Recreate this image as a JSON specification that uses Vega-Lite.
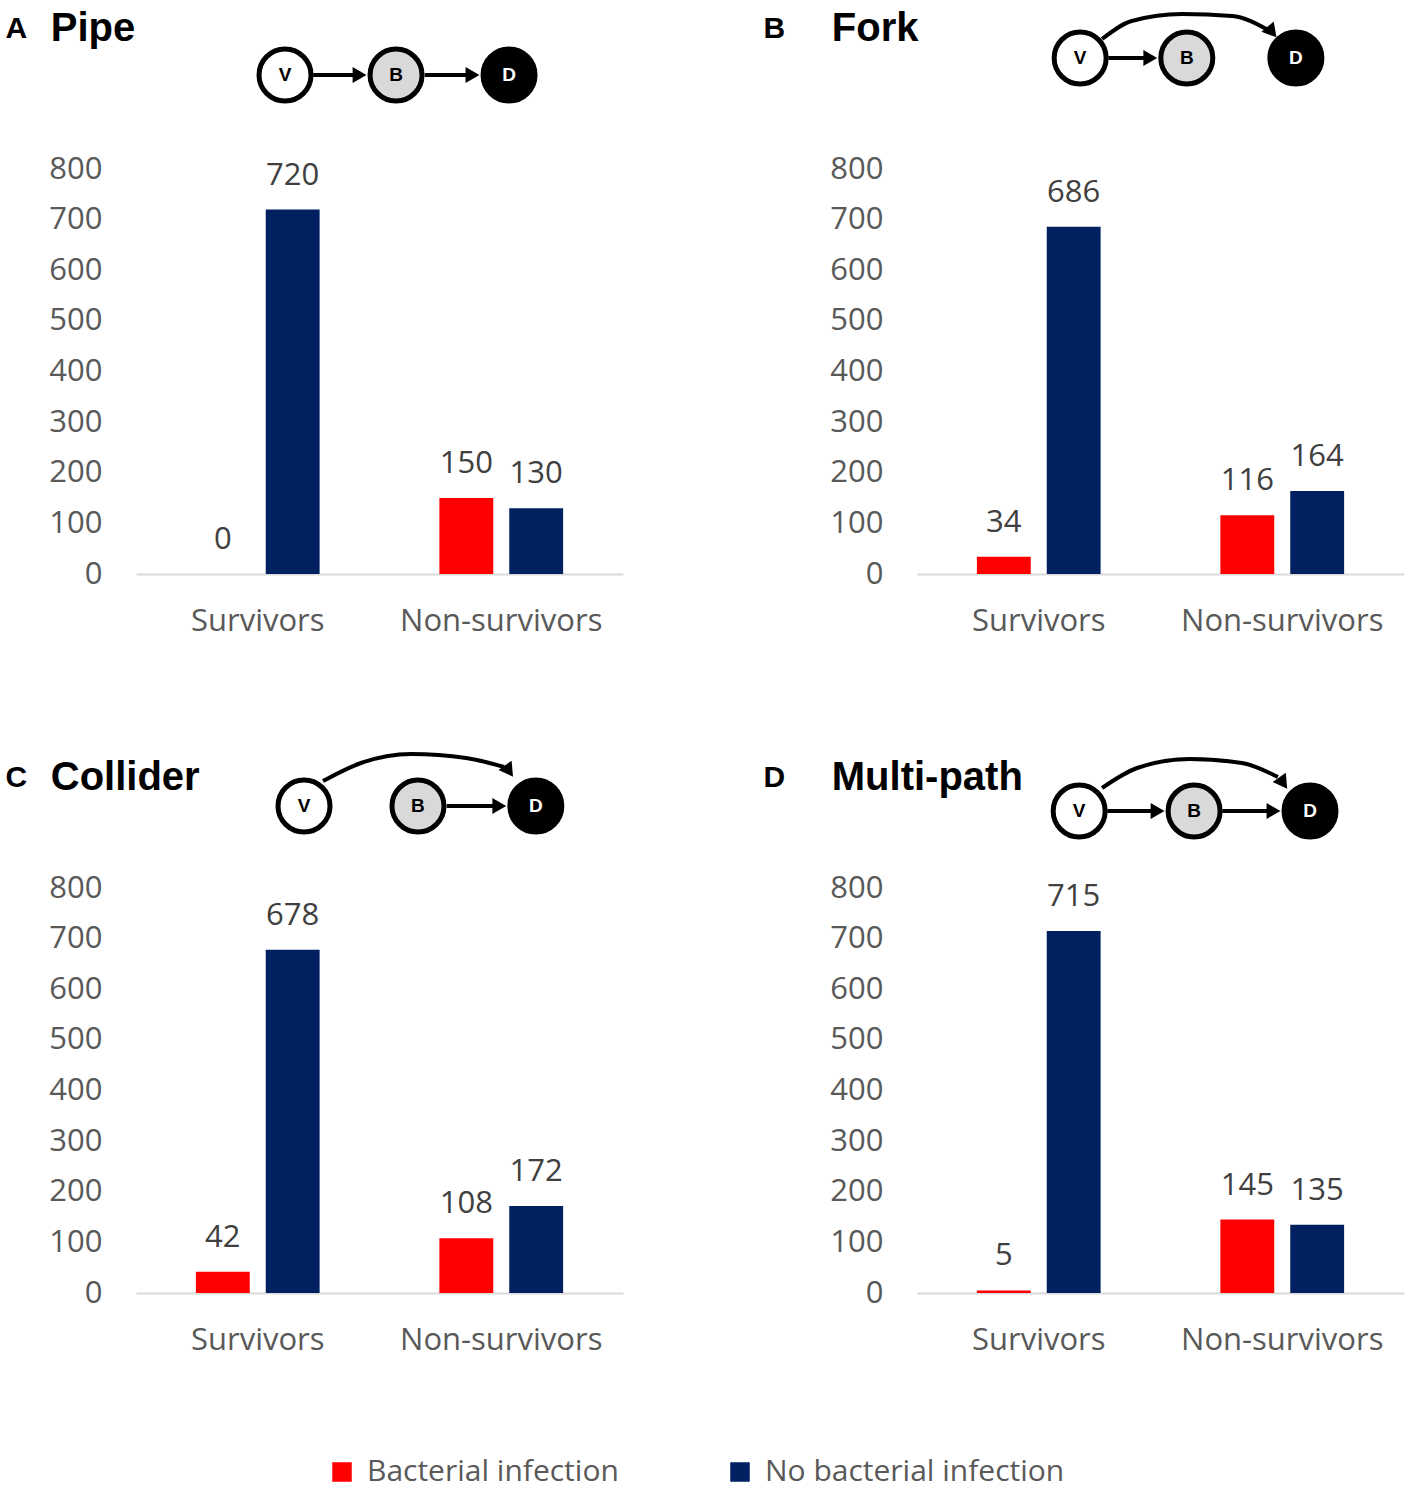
{
  "$schema": "https://vega.github.io/schema/vega-lite/v6.json",
  "background": "#ffffff",
  "padding": {"left": 5, "top": 5, "right": 5, "bottom": 6},
  "datasets": {
    "bars": [
      {"panel": "A", "group": "Survivors", "infection": "Bacterial infection", "count": 0},
      {"panel": "A", "group": "Survivors", "infection": "No bacterial infection", "count": 720},
      {"panel": "A", "group": "Non-survivors", "infection": "Bacterial infection", "count": 150},
      {"panel": "A", "group": "Non-survivors", "infection": "No bacterial infection", "count": 130},
      {"panel": "B", "group": "Survivors", "infection": "Bacterial infection", "count": 34},
      {"panel": "B", "group": "Survivors", "infection": "No bacterial infection", "count": 686},
      {"panel": "B", "group": "Non-survivors", "infection": "Bacterial infection", "count": 116},
      {"panel": "B", "group": "Non-survivors", "infection": "No bacterial infection", "count": 164},
      {"panel": "C", "group": "Survivors", "infection": "Bacterial infection", "count": 42},
      {"panel": "C", "group": "Survivors", "infection": "No bacterial infection", "count": 678},
      {"panel": "C", "group": "Non-survivors", "infection": "Bacterial infection", "count": 108},
      {"panel": "C", "group": "Non-survivors", "infection": "No bacterial infection", "count": 172},
      {"panel": "D", "group": "Survivors", "infection": "Bacterial infection", "count": 5},
      {"panel": "D", "group": "Survivors", "infection": "No bacterial infection", "count": 715},
      {"panel": "D", "group": "Non-survivors", "infection": "Bacterial infection", "count": 145},
      {"panel": "D", "group": "Non-survivors", "infection": "No bacterial infection", "count": 135}
    ],
    "titles": [
      {"panel": "A", "kind": "letter", "label": "A", "x": -2.68, "y": 11.0},
      {"panel": "A", "kind": "title", "label": "Pipe", "x": -1.75, "y": 11.0},
      {"panel": "B", "kind": "letter", "label": "B", "x": -3.15, "y": 11.0},
      {"panel": "B", "kind": "title", "label": "Fork", "x": -1.75, "y": 11.0},
      {"panel": "C", "kind": "letter", "label": "C", "x": -2.68, "y": 7.6},
      {"panel": "C", "kind": "title", "label": "Collider", "x": -1.75, "y": 7.6},
      {"panel": "D", "kind": "letter", "label": "D", "x": -3.15, "y": 7.6},
      {"panel": "D", "kind": "title", "label": "Multi-path", "x": -1.75, "y": 7.6}
    ],
    "nodes": [
      {"panel": "A", "node": "V", "x": 3.06, "y": 6.4},
      {"panel": "A", "node": "B", "x": 5.34, "y": 6.4},
      {"panel": "A", "node": "D", "x": 7.66, "y": 6.4},
      {"panel": "B", "node": "V", "x": 3.35, "y": 8.1},
      {"panel": "B", "node": "B", "x": 5.54, "y": 8.1},
      {"panel": "B", "node": "D", "x": 7.78, "y": 8.1},
      {"panel": "C", "node": "V", "x": 3.45, "y": 4.8},
      {"panel": "C", "node": "B", "x": 5.79, "y": 4.8},
      {"panel": "C", "node": "D", "x": 8.21, "y": 4.8},
      {"panel": "D", "node": "V", "x": 3.33, "y": 4.3},
      {"panel": "D", "node": "B", "x": 5.69, "y": 4.3},
      {"panel": "D", "node": "D", "x": 8.07, "y": 4.3}
    ],
    "edges": [
      {"panel": "A", "x": 3.64, "x2": 4.59, "y": 6.4},
      {"panel": "A", "x": 5.93, "x2": 6.91, "y": 6.4},
      {"panel": "B", "x": 3.93, "x2": 4.79, "y": 8.1},
      {"panel": "C", "x": 6.38, "x2": 7.46, "y": 4.8},
      {"panel": "D", "x": 3.91, "x2": 4.94, "y": 4.3},
      {"panel": "D", "x": 6.27, "x2": 7.32, "y": 4.3}
    ],
    "curves": [
      {"panel": "B", "order": 1, "x": 3.8, "y": 10.0},
      {"panel": "B", "order": 2, "x": 4.41, "y": 11.8},
      {"panel": "B", "order": 3, "x": 5.44, "y": 12.5},
      {"panel": "B", "order": 4, "x": 6.47, "y": 12.3},
      {"panel": "B", "order": 5, "x": 7.21, "y": 10.9},
      {"panel": "C", "order": 1, "x": 3.84, "y": 7.3},
      {"panel": "C", "order": 2, "x": 4.62, "y": 9.1},
      {"panel": "C", "order": 3, "x": 5.65, "y": 10.0},
      {"panel": "C", "order": 4, "x": 6.78, "y": 9.6},
      {"panel": "C", "order": 5, "x": 7.56, "y": 8.7},
      {"panel": "D", "order": 1, "x": 3.8, "y": 6.6},
      {"panel": "D", "order": 2, "x": 4.52, "y": 8.6},
      {"panel": "D", "order": 3, "x": 5.59, "y": 9.5},
      {"panel": "D", "order": 4, "x": 6.67, "y": 9.1},
      {"panel": "D", "order": 5, "x": 7.41, "y": 7.7}
    ],
    "curveHeads": [
      {"panel": "B", "x": 7.29, "y": 10.7},
      {"panel": "C", "x": 7.66, "y": 8.3},
      {"panel": "D", "x": 7.52, "y": 7.1}
    ]
  },
  "vconcat": [
    {
      "hconcat": [
        {
          "vconcat": [
            {
              "width": 487,
              "height": 130,
              "encoding": {
                "x": {"field": "x", "type": "quantitative", "scale": {"domain": [0, 10], "nice": false, "zero": false}, "axis": null},
                "y": {"field": "y", "type": "quantitative", "scale": {"domain": [0, 13], "nice": false, "zero": false}, "axis": null}
              },
              "layer": [
                {
                  "data": {"name": "titles"},
                  "transform": [{"filter": "datum.panel === 'A' && datum.kind === 'letter'"}],
                  "mark": {"type": "text", "font": "Liberation Sans", "fontWeight": "bold", "fontSize": 30, "align": "left", "baseline": "middle", "color": "#000000"},
                  "encoding": {"text": {"field": "label"}}
                },
                {
                  "data": {"name": "titles"},
                  "transform": [{"filter": "datum.panel === 'A' && datum.kind === 'title'"}],
                  "mark": {"type": "text", "font": "Liberation Sans", "fontWeight": "bold", "fontSize": 40, "align": "left", "baseline": "middle", "color": "#000000"},
                  "encoding": {"text": {"field": "label"}}
                },
                {
                  "data": {"name": "edges"},
                  "transform": [{"filter": "datum.panel === 'A'"}],
                  "mark": {"type": "rule", "strokeWidth": 4, "color": "#000000"},
                  "encoding": {"x2": {"field": "x2"}}
                },
                {
                  "data": {"name": "edges"},
                  "transform": [{"filter": "datum.panel === 'A'"}],
                  "mark": {"type": "point", "shape": "triangle-right", "filled": true, "size": 256, "color": "#000000", "opacity": 1},
                  "encoding": {"x": {"field": "x2", "type": "quantitative"}}
                },
                {
                  "data": {"name": "nodes"},
                  "transform": [{"filter": "datum.panel === 'A'"}],
                  "mark": {"type": "point", "shape": "circle", "filled": true, "size": 2704, "stroke": "#000000", "strokeWidth": 5, "opacity": 1},
                  "encoding": {"fill": {"field": "node", "type": "nominal", "scale": {"domain": ["V", "B", "D"], "range": ["#ffffff", "#d9d9d9", "#000000"]}, "legend": null}}
                },
                {
                  "data": {"name": "nodes"},
                  "transform": [{"filter": "datum.panel === 'A' && datum.node !== 'D'"}],
                  "mark": {"type": "text", "font": "Liberation Sans", "fontWeight": "bold", "fontSize": 19, "align": "center", "baseline": "middle", "color": "#000000"},
                  "encoding": {"text": {"field": "node"}}
                },
                {
                  "data": {"name": "nodes"},
                  "transform": [{"filter": "datum.panel === 'A' && datum.node === 'D'"}],
                  "mark": {"type": "text", "font": "Liberation Sans", "fontWeight": "bold", "fontSize": 19, "align": "center", "baseline": "middle", "color": "#ffffff"},
                  "encoding": {"text": {"field": "node"}}
                }
              ]
            },
            {
              "width": 487,
              "height": 405,
              "data": {"name": "bars"},
              "transform": [{"filter": "datum.panel === 'A'"}],
              "encoding": {
                "x": {"field": "group", "type": "nominal", "sort": ["Survivors", "Non-survivors"], "scale": {"paddingInner": 0, "paddingOuter": 0}, "title": null},
                "xOffset": {"field": "infection", "type": "nominal", "sort": ["Bacterial infection", "No bacterial infection"], "scale": {"paddingInner": 0.229, "paddingOuter": 0.857}},
                "y": {"field": "count", "type": "quantitative", "scale": {"domain": [0, 800], "nice": false}, "title": null}
              },
              "layer": [
                {
                  "mark": {"type": "bar"},
                  "encoding": {
                    "color": {
                      "field": "infection", "type": "nominal",
                      "scale": {"domain": ["Bacterial infection", "No bacterial infection"], "range": ["#ff0000", "#002060"]},
                      "legend": {"orient": "none", "legendX": 191, "legendY": 1448, "direction": "horizontal", "title": null, "symbolType": "square", "symbolSize": 380, "symbolStrokeWidth": 0, "labelFontSize": 30, "labelColor": "#595959", "labelFont": "Open Sans", "labelOffset": 10, "labelLimit": 0, "columnPadding": 106}
                    }
                  }
                },
                {
                  "mark": {"type": "text", "baseline": "alphabetic", "dy": -25, "fontSize": 31, "font": "Open Sans", "color": "#404040"},
                  "encoding": {"text": {"field": "count", "type": "quantitative"}}
                }
              ]
            }
          ],
          "spacing": 14
        },
        {
          "vconcat": [
            {
              "width": 487,
              "height": 130,
              "encoding": {
                "x": {"field": "x", "type": "quantitative", "scale": {"domain": [0, 10], "nice": false, "zero": false}, "axis": null},
                "y": {"field": "y", "type": "quantitative", "scale": {"domain": [0, 13], "nice": false, "zero": false}, "axis": null}
              },
              "layer": [
                {
                  "data": {"name": "titles"},
                  "transform": [{"filter": "datum.panel === 'B' && datum.kind === 'letter'"}],
                  "mark": {"type": "text", "font": "Liberation Sans", "fontWeight": "bold", "fontSize": 30, "align": "left", "baseline": "middle", "color": "#000000"},
                  "encoding": {"text": {"field": "label"}}
                },
                {
                  "data": {"name": "titles"},
                  "transform": [{"filter": "datum.panel === 'B' && datum.kind === 'title'"}],
                  "mark": {"type": "text", "font": "Liberation Sans", "fontWeight": "bold", "fontSize": 40, "align": "left", "baseline": "middle", "color": "#000000"},
                  "encoding": {"text": {"field": "label"}}
                },
                {
                  "data": {"name": "curves"},
                  "transform": [{"filter": "datum.panel === 'B'"}],
                  "mark": {"type": "line", "interpolate": "monotone", "strokeWidth": 4, "color": "#000000"},
                  "encoding": {"order": {"field": "order", "type": "quantitative"}}
                },
                {
                  "data": {"name": "curveHeads"},
                  "transform": [{"filter": "datum.panel === 'B'"}],
                  "mark": {"type": "point", "shape": "triangle-right", "angle": 50, "filled": true, "size": 256, "color": "#000000", "opacity": 1}
                },
                {
                  "data": {"name": "edges"},
                  "transform": [{"filter": "datum.panel === 'B'"}],
                  "mark": {"type": "rule", "strokeWidth": 4, "color": "#000000"},
                  "encoding": {"x2": {"field": "x2"}}
                },
                {
                  "data": {"name": "edges"},
                  "transform": [{"filter": "datum.panel === 'B'"}],
                  "mark": {"type": "point", "shape": "triangle-right", "filled": true, "size": 256, "color": "#000000", "opacity": 1},
                  "encoding": {"x": {"field": "x2", "type": "quantitative"}}
                },
                {
                  "data": {"name": "nodes"},
                  "transform": [{"filter": "datum.panel === 'B'"}],
                  "mark": {"type": "point", "shape": "circle", "filled": true, "size": 2704, "stroke": "#000000", "strokeWidth": 5, "opacity": 1},
                  "encoding": {"fill": {"field": "node", "type": "nominal", "scale": {"domain": ["V", "B", "D"], "range": ["#ffffff", "#d9d9d9", "#000000"]}, "legend": null}}
                },
                {
                  "data": {"name": "nodes"},
                  "transform": [{"filter": "datum.panel === 'B' && datum.node !== 'D'"}],
                  "mark": {"type": "text", "font": "Liberation Sans", "fontWeight": "bold", "fontSize": 19, "align": "center", "baseline": "middle", "color": "#000000"},
                  "encoding": {"text": {"field": "node"}}
                },
                {
                  "data": {"name": "nodes"},
                  "transform": [{"filter": "datum.panel === 'B' && datum.node === 'D'"}],
                  "mark": {"type": "text", "font": "Liberation Sans", "fontWeight": "bold", "fontSize": 19, "align": "center", "baseline": "middle", "color": "#ffffff"},
                  "encoding": {"text": {"field": "node"}}
                }
              ]
            },
            {
              "width": 487,
              "height": 405,
              "data": {"name": "bars"},
              "transform": [{"filter": "datum.panel === 'B'"}],
              "encoding": {
                "x": {"field": "group", "type": "nominal", "sort": ["Survivors", "Non-survivors"], "scale": {"paddingInner": 0, "paddingOuter": 0}, "title": null},
                "xOffset": {"field": "infection", "type": "nominal", "sort": ["Bacterial infection", "No bacterial infection"], "scale": {"paddingInner": 0.229, "paddingOuter": 0.857}},
                "y": {"field": "count", "type": "quantitative", "scale": {"domain": [0, 800], "nice": false}, "title": null}
              },
              "layer": [
                {
                  "mark": {"type": "bar"},
                  "encoding": {
                    "color": {
                      "field": "infection", "type": "nominal",
                      "scale": {"domain": ["Bacterial infection", "No bacterial infection"], "range": ["#ff0000", "#002060"]},
                      "legend": {"orient": "none", "legendX": 191, "legendY": 1448, "direction": "horizontal", "title": null, "symbolType": "square", "symbolSize": 380, "symbolStrokeWidth": 0, "labelFontSize": 30, "labelColor": "#595959", "labelFont": "Open Sans", "labelOffset": 10, "labelLimit": 0, "columnPadding": 106}
                    }
                  }
                },
                {
                  "mark": {"type": "text", "baseline": "alphabetic", "dy": -25, "fontSize": 31, "font": "Open Sans", "color": "#404040"},
                  "encoding": {"text": {"field": "count", "type": "quantitative"}}
                }
              ]
            }
          ],
          "spacing": 14
        }
      ],
      "spacing": 140
    },
    {
      "hconcat": [
        {
          "vconcat": [
            {
              "width": 487,
              "height": 130,
              "encoding": {
                "x": {"field": "x", "type": "quantitative", "scale": {"domain": [0, 10], "nice": false, "zero": false}, "axis": null},
                "y": {"field": "y", "type": "quantitative", "scale": {"domain": [0, 13], "nice": false, "zero": false}, "axis": null}
              },
              "layer": [
                {
                  "data": {"name": "titles"},
                  "transform": [{"filter": "datum.panel === 'C' && datum.kind === 'letter'"}],
                  "mark": {"type": "text", "font": "Liberation Sans", "fontWeight": "bold", "fontSize": 30, "align": "left", "baseline": "middle", "color": "#000000"},
                  "encoding": {"text": {"field": "label"}}
                },
                {
                  "data": {"name": "titles"},
                  "transform": [{"filter": "datum.panel === 'C' && datum.kind === 'title'"}],
                  "mark": {"type": "text", "font": "Liberation Sans", "fontWeight": "bold", "fontSize": 40, "align": "left", "baseline": "middle", "color": "#000000"},
                  "encoding": {"text": {"field": "label"}}
                },
                {
                  "data": {"name": "curves"},
                  "transform": [{"filter": "datum.panel === 'C'"}],
                  "mark": {"type": "line", "interpolate": "monotone", "strokeWidth": 4, "color": "#000000"},
                  "encoding": {"order": {"field": "order", "type": "quantitative"}}
                },
                {
                  "data": {"name": "curveHeads"},
                  "transform": [{"filter": "datum.panel === 'C'"}],
                  "mark": {"type": "point", "shape": "triangle-right", "angle": 55, "filled": true, "size": 256, "color": "#000000", "opacity": 1}
                },
                {
                  "data": {"name": "edges"},
                  "transform": [{"filter": "datum.panel === 'C'"}],
                  "mark": {"type": "rule", "strokeWidth": 4, "color": "#000000"},
                  "encoding": {"x2": {"field": "x2"}}
                },
                {
                  "data": {"name": "edges"},
                  "transform": [{"filter": "datum.panel === 'C'"}],
                  "mark": {"type": "point", "shape": "triangle-right", "filled": true, "size": 256, "color": "#000000", "opacity": 1},
                  "encoding": {"x": {"field": "x2", "type": "quantitative"}}
                },
                {
                  "data": {"name": "nodes"},
                  "transform": [{"filter": "datum.panel === 'C'"}],
                  "mark": {"type": "point", "shape": "circle", "filled": true, "size": 2704, "stroke": "#000000", "strokeWidth": 5, "opacity": 1},
                  "encoding": {"fill": {"field": "node", "type": "nominal", "scale": {"domain": ["V", "B", "D"], "range": ["#ffffff", "#d9d9d9", "#000000"]}, "legend": null}}
                },
                {
                  "data": {"name": "nodes"},
                  "transform": [{"filter": "datum.panel === 'C' && datum.node !== 'D'"}],
                  "mark": {"type": "text", "font": "Liberation Sans", "fontWeight": "bold", "fontSize": 19, "align": "center", "baseline": "middle", "color": "#000000"},
                  "encoding": {"text": {"field": "node"}}
                },
                {
                  "data": {"name": "nodes"},
                  "transform": [{"filter": "datum.panel === 'C' && datum.node === 'D'"}],
                  "mark": {"type": "text", "font": "Liberation Sans", "fontWeight": "bold", "fontSize": 19, "align": "center", "baseline": "middle", "color": "#ffffff"},
                  "encoding": {"text": {"field": "node"}}
                }
              ]
            },
            {
              "width": 487,
              "height": 405,
              "data": {"name": "bars"},
              "transform": [{"filter": "datum.panel === 'C'"}],
              "encoding": {
                "x": {"field": "group", "type": "nominal", "sort": ["Survivors", "Non-survivors"], "scale": {"paddingInner": 0, "paddingOuter": 0}, "title": null},
                "xOffset": {"field": "infection", "type": "nominal", "sort": ["Bacterial infection", "No bacterial infection"], "scale": {"paddingInner": 0.229, "paddingOuter": 0.857}},
                "y": {"field": "count", "type": "quantitative", "scale": {"domain": [0, 800], "nice": false}, "title": null}
              },
              "layer": [
                {
                  "mark": {"type": "bar"},
                  "encoding": {
                    "color": {
                      "field": "infection", "type": "nominal",
                      "scale": {"domain": ["Bacterial infection", "No bacterial infection"], "range": ["#ff0000", "#002060"]},
                      "legend": {"orient": "none", "legendX": 191, "legendY": 1448, "direction": "horizontal", "title": null, "symbolType": "square", "symbolSize": 380, "symbolStrokeWidth": 0, "labelFontSize": 30, "labelColor": "#595959", "labelFont": "Open Sans", "labelOffset": 10, "labelLimit": 0, "columnPadding": 106}
                    }
                  }
                },
                {
                  "mark": {"type": "text", "baseline": "alphabetic", "dy": -25, "fontSize": 31, "font": "Open Sans", "color": "#404040"},
                  "encoding": {"text": {"field": "count", "type": "quantitative"}}
                }
              ]
            }
          ],
          "spacing": 18
        },
        {
          "vconcat": [
            {
              "width": 487,
              "height": 130,
              "encoding": {
                "x": {"field": "x", "type": "quantitative", "scale": {"domain": [0, 10], "nice": false, "zero": false}, "axis": null},
                "y": {"field": "y", "type": "quantitative", "scale": {"domain": [0, 13], "nice": false, "zero": false}, "axis": null}
              },
              "layer": [
                {
                  "data": {"name": "titles"},
                  "transform": [{"filter": "datum.panel === 'D' && datum.kind === 'letter'"}],
                  "mark": {"type": "text", "font": "Liberation Sans", "fontWeight": "bold", "fontSize": 30, "align": "left", "baseline": "middle", "color": "#000000"},
                  "encoding": {"text": {"field": "label"}}
                },
                {
                  "data": {"name": "titles"},
                  "transform": [{"filter": "datum.panel === 'D' && datum.kind === 'title'"}],
                  "mark": {"type": "text", "font": "Liberation Sans", "fontWeight": "bold", "fontSize": 40, "align": "left", "baseline": "middle", "color": "#000000"},
                  "encoding": {"text": {"field": "label"}}
                },
                {
                  "data": {"name": "curves"},
                  "transform": [{"filter": "datum.panel === 'D'"}],
                  "mark": {"type": "line", "interpolate": "monotone", "strokeWidth": 4, "color": "#000000"},
                  "encoding": {"order": {"field": "order", "type": "quantitative"}}
                },
                {
                  "data": {"name": "curveHeads"},
                  "transform": [{"filter": "datum.panel === 'D'"}],
                  "mark": {"type": "point", "shape": "triangle-right", "angle": 55, "filled": true, "size": 256, "color": "#000000", "opacity": 1}
                },
                {
                  "data": {"name": "edges"},
                  "transform": [{"filter": "datum.panel === 'D'"}],
                  "mark": {"type": "rule", "strokeWidth": 4, "color": "#000000"},
                  "encoding": {"x2": {"field": "x2"}}
                },
                {
                  "data": {"name": "edges"},
                  "transform": [{"filter": "datum.panel === 'D'"}],
                  "mark": {"type": "point", "shape": "triangle-right", "filled": true, "size": 256, "color": "#000000", "opacity": 1},
                  "encoding": {"x": {"field": "x2", "type": "quantitative"}}
                },
                {
                  "data": {"name": "nodes"},
                  "transform": [{"filter": "datum.panel === 'D'"}],
                  "mark": {"type": "point", "shape": "circle", "filled": true, "size": 2704, "stroke": "#000000", "strokeWidth": 5, "opacity": 1},
                  "encoding": {"fill": {"field": "node", "type": "nominal", "scale": {"domain": ["V", "B", "D"], "range": ["#ffffff", "#d9d9d9", "#000000"]}, "legend": null}}
                },
                {
                  "data": {"name": "nodes"},
                  "transform": [{"filter": "datum.panel === 'D' && datum.node !== 'D'"}],
                  "mark": {"type": "text", "font": "Liberation Sans", "fontWeight": "bold", "fontSize": 19, "align": "center", "baseline": "middle", "color": "#000000"},
                  "encoding": {"text": {"field": "node"}}
                },
                {
                  "data": {"name": "nodes"},
                  "transform": [{"filter": "datum.panel === 'D' && datum.node === 'D'"}],
                  "mark": {"type": "text", "font": "Liberation Sans", "fontWeight": "bold", "fontSize": 19, "align": "center", "baseline": "middle", "color": "#ffffff"},
                  "encoding": {"text": {"field": "node"}}
                }
              ]
            },
            {
              "width": 487,
              "height": 405,
              "data": {"name": "bars"},
              "transform": [{"filter": "datum.panel === 'D'"}],
              "encoding": {
                "x": {"field": "group", "type": "nominal", "sort": ["Survivors", "Non-survivors"], "scale": {"paddingInner": 0, "paddingOuter": 0}, "title": null},
                "xOffset": {"field": "infection", "type": "nominal", "sort": ["Bacterial infection", "No bacterial infection"], "scale": {"paddingInner": 0.229, "paddingOuter": 0.857}},
                "y": {"field": "count", "type": "quantitative", "scale": {"domain": [0, 800], "nice": false}, "title": null}
              },
              "layer": [
                {
                  "mark": {"type": "bar"},
                  "encoding": {
                    "color": {
                      "field": "infection", "type": "nominal",
                      "scale": {"domain": ["Bacterial infection", "No bacterial infection"], "range": ["#ff0000", "#002060"]},
                      "legend": {"orient": "none", "legendX": 191, "legendY": 1448, "direction": "horizontal", "title": null, "symbolType": "square", "symbolSize": 380, "symbolStrokeWidth": 0, "labelFontSize": 30, "labelColor": "#595959", "labelFont": "Open Sans", "labelOffset": 10, "labelLimit": 0, "columnPadding": 106}
                    }
                  }
                },
                {
                  "mark": {"type": "text", "baseline": "alphabetic", "dy": -25, "fontSize": 31, "font": "Open Sans", "color": "#404040"},
                  "encoding": {"text": {"field": "count", "type": "quantitative"}}
                }
              ]
            }
          ],
          "spacing": 18
        }
      ],
      "spacing": 140
    }
  ],
  "spacing": 88,
  "config": {
    "font": "Open Sans",
    "view": {"stroke": null},
    "axisY": {"values": [0, 100, 200, 300, 400, 500, 600, 700, 800], "grid": false, "ticks": false, "tickSize": 0, "domain": false, "labelFontSize": 31, "labelColor": "#595959", "labelFont": "Open Sans", "labelPadding": 34},
    "axisX": {"grid": false, "ticks": false, "tickSize": 0, "domain": true, "domainColor": "#d9d9d9", "domainWidth": 2, "labelAngle": 0, "labelFontSize": 31, "labelColor": "#595959", "labelFont": "Open Sans", "labelPadding": 32, "labelLimit": 0}
  }
}
